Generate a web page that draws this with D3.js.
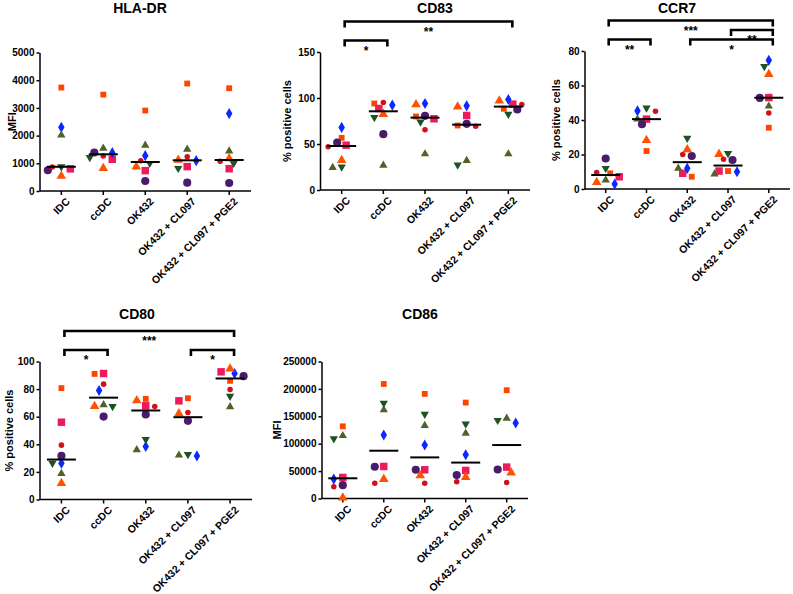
<!DOCTYPE html>
<html>
<head>
<meta charset="utf-8">
<script src="https://cdn.jsdelivr.net/npm/d3@7"></script>
<style>
  body { margin: 0; background: #fff; }
  svg { display: block; font-family: "Liberation Sans", Arial, sans-serif; }
  .axis path, .axis line { stroke: #000; stroke-width: 1.5; }
  .axis text { font-size: 10px; font-weight: bold; fill: #000; }
  .axis text.lbl { font-size: 10.5px; }
</style>
</head>
<body>
<svg id="chart" width="793" height="594"></svg>
<script>
'use strict';

// groups along the x axis, same for all panels
const GROUPS = ["IDC", "ccDC", "OK432", "OK432 + CL097", "OK432 + CL097 + PGE2"];

// donors, one marker each
const DONORS = ["sqOrange", "sqPink", "diamond", "triOlive", "triDown", "circPurple", "circRed", "triOrange"];

// values per donor, in GROUPS order
const HLADR = {
    sqOrange:   [3735, 3480, 2905, 3880, 3710],
    sqPink:     [800, 1145, 735, 880, 805],
    diamond:    [2300, 1385, 1275, 1095, 2795],
    triOlive:   [2020, 1540, 1650, 1505, 1445],
    triDown:    [880, 1215, 1000, 820, 1000],
    circPurple: [750, 1390, 360, 300, 290],
    circRed:    [870, 1265, 1095, 1240, 1070],
    triOrange:  [540, 820, 880, 1120, 1170]
};

const CD83 = {
    sqOrange:   [56.7, 94, 79.9, 70.1, 88.3],
    sqPink:     [48.7, 88.6, 77.4, 81, 93.3],
    diamond:    [68, 92.3, 94, 91.5, 98.4],
    triOlive:   [24.3, 26.9, 39.2, 32, 39.2],
    triDown:    [25.1, 78.8, 74.1, 27.2, 82.5],
    circPurple: [51.6, 60.7, 80.6, 71.9, 87.5],
    circRed:    [46.9, 95.2, 65.4, 69.4, 93],
    triOrange:  [32.3, 82.5, 93, 90.4, 97]
};

const CCR7 = {
    sqOrange:   [9.1, 22, 7.1, 10.4, 35.5],
    sqPink:     [7.1, 40.5, 9.1, 10.4, 53],
    diamond:    [2.9, 45.3, 12, 10, 74.6],
    triOlive:   [5.2, 40.5, 12, 8.7, 48],
    triDown:    [12, 47, 29.5, 20.6, 71.1],
    circPurple: [17.7, 37.6, 19.1, 16.8, 52.8],
    circRed:    [9.6, 45.1, 20, 17.2, 44],
    triOrange:  [3.9, 28.3, 22.9, 20.2, 66.5]
};

const CD80 = {
    sqOrange:   [80.7, 91, 72.9, 73.4, 86],
    sqPink:     [56, 91.3, 67.9, 71.5, 92.5],
    diamond:    [26.3, 79, 38.4, 31.6, 91.3],
    triOlive:   [18.8, 68.6, 36, 32.1, 67.1],
    triDown:    [26.3, 67.4, 43.5, 32.6, 74.9],
    circPurple: [31.6, 60.1, 61.6, 57, 89.4],
    circRed:    [39.4, 83.6, 67.4, 63, 79.7],
    triOrange:  [11.8, 67.6, 71.7, 62.3, 94.7]
};

const CD86 = {
    sqOrange:   [131700, 209000, 190900, 175000, 197600],
    sqPink:     [38400, 58500, 52400, 51200, 57300],
    diamond:    [35400, 115900, 97600, 79900, 137800],
    triOlive:   [114600, 161600, 132900, 118900, 146300],
    triDown:    [109100, 173800, 153700, 136000, 142700],
    circPurple: [24400, 57900, 52400, 42700, 53000],
    circRed:    [21300, 28000, 28000, 30500, 29300],
    triOrange:  [1200, 35400, 42000, 39000, 47000]
};

// significance comparisons [from group, to group, label]
const CD83_SIG = [[0, 1, "*"], [0, 4, "**"]];
const CCR7_SIG = [[0, 1, "**"], [2, 4, "*"], [3, 4, "**"], [0, 4, "***"]];
const CD80_SIG = [[0, 1, "*"], [3, 4, "*"], [0, 4, "***"]];

// marker look per donor
const MARKERS = {
    sqOrange:   { type: d3.symbolSquare,   size: 34, color: "#ff4400" },
    sqPink:     { type: d3.symbolSquare,   size: 56, color: "#ee1b5b" },
    diamond:    { type: d3.symbolDiamond,  size: 36, color: "#0a28ff" },
    triOlive:   { type: d3.symbolTriangle, size: 30, color: "#4f6228", rot: 0 },
    triDown:    { type: d3.symbolTriangle, size: 30, color: "#1d5222", rot: 180 },
    circPurple: { type: d3.symbolCircle,   size: 52, color: "#4a1a6b" },
    circRed:    { type: d3.symbolCircle,   size: 24, color: "#d0101a" },
    triOrange:  { type: d3.symbolTriangle, size: 40, color: "#ff5200", rot: 0 }
};

const PANELS = [
    { title: "HLA-DR", yLabel: "MFI", data: HLADR, sig: [], max: 5000, step: 1000,
      left: 39.5, right: 251, top: 52.5, bottom: 191, titleX: 140, titleY: 12.5, labelX: 16 },
    { title: "CD83", yLabel: "% positive cells", data: CD83, sig: CD83_SIG, max: 150, step: 50,
      left: 320, right: 530, top: 52, bottom: 190, titleX: 435, titleY: 12.5, labelX: 291 },
    { title: "CCR7", yLabel: "% positive cells", data: CCR7, sig: CCR7_SIG, max: 80, step: 20,
      left: 584.5, right: 790, top: 51, bottom: 189, titleX: 677, titleY: 12.5, labelX: 559.5 },
    { title: "CD80", yLabel: "% positive cells", data: CD80, sig: CD80_SIG, max: 100, step: 20,
      left: 39.5, right: 252, top: 361.5, bottom: 499.5, titleX: 137, titleY: 319, labelX: 12.5 },
    { title: "CD86", yLabel: "MFI", data: CD86, sig: [], max: 250000, step: 50000,
      left: 321.5, right: 528, top: 361.5, bottom: 498.5, titleX: 420, titleY: 319, labelX: 280.5 }
];

const svg = d3.select("#chart");

/**
 * Spread points of one column sideways when they overlap (beeswarm)
 */
function spread(points) {
    const placed = [];
    const stepX = 4.5, minDist = 6.5;
    points.slice().sort((a, b) => a.py - b.py).forEach(p => {
        let best = 0, bestScore = Infinity;
        for (let k = 0; k < 7; ++k) {
            let off = k === 0 ? 0 : (k % 2 ? -1 : 1) * Math.ceil(k / 2) * stepX;
            // how much this spot collides with the points already placed
            let score = d3.sum(placed, q => {
                let dx = off - q.off, dy = p.py - q.py;
                let d = Math.sqrt(dx * dx + dy * dy);
                return d < minDist ? minDist - d : 0;
            });
            if (score === 0) { best = off; bestScore = 0; break; }
            if (score < bestScore) { best = off; bestScore = score; }
        }
        p.off = best;
        placed.push(p);
    });
}

function drawPanel(cfg) {
    const g = svg.append("g");
    const x = d3.scalePoint().domain(GROUPS).range([cfg.left, cfg.right]).padding(0.52);
    const y = d3.scaleLinear().domain([0, cfg.max]).range([cfg.bottom, cfg.top]);

    // title
    g.append("text").attr("x", cfg.titleX).attr("y", cfg.titleY)
        .attr("text-anchor", "middle").attr("font-size", 14).attr("font-weight", "bold")
        .text(cfg.title);

    // y axis
    g.append("g").attr("class", "axis")
        .attr("transform", "translate(" + cfg.left + ",0)")
        .call(d3.axisLeft(y).tickValues(d3.range(0, cfg.max + 1, cfg.step))
            .tickSize(3).tickSizeOuter(0).tickPadding(2).tickFormat(d3.format("d")));

    // x axis
    const xa = g.append("g").attr("class", "axis")
        .attr("transform", "translate(0," + cfg.bottom + ")");
    xa.append("line").attr("x1", cfg.left).attr("x2", cfg.right);
    xa.selectAll(".tk").data(GROUPS).enter().append("line")
        .attr("x1", d => x(d)).attr("x2", d => x(d)).attr("y1", 0).attr("y2", 4);
    xa.selectAll(".lbl").data(GROUPS).enter().append("text")
        .attr("class", "lbl")
        .attr("text-anchor", "end")
        .attr("transform", d => "translate(" + (x(d) + 4) + ",6) rotate(-45)")
        .attr("dy", "0.7em")
        .text(d => d);

    // y label
    g.append("text")
        .attr("transform", "translate(" + cfg.labelX + "," + ((cfg.top + cfg.bottom) / 2) + ") rotate(-90)")
        .attr("text-anchor", "middle").attr("font-size", 11).attr("font-weight", "bold")
        .text(cfg.yLabel);

    // points
    GROUPS.forEach((grp, gi) => {
        let pts = DONORS.map(dn => ({ donor: dn, value: cfg.data[dn][gi], py: y(cfg.data[dn][gi]), off: 0 }));
        spread(pts);
        pts.forEach(p => {
            const m = MARKERS[p.donor];
            g.append("path")
                .attr("d", d3.symbol().type(m.type).size(m.size)())
                .attr("fill", m.color)
                .attr("transform", "translate(" + (x(grp) + p.off) + "," + p.py + ")" + (m.rot ? " rotate(" + m.rot + ")" : ""));
        });
        const med = d3.median(pts, p => p.value);
        g.append("line")
            .attr("x1", x(grp) - 14.5).attr("x2", x(grp) + 14.5)
            .attr("y1", y(med)).attr("y2", y(med))
            .attr("stroke", "#000").attr("stroke-width", 2);
    });

    // significance brackets, stacked greedily in list order
    const levels = [];
    const assigned = cfg.sig.map(s => {
        let lv = 0;
        while ((levels[lv] || []).some(o => !(s[1] < o[0] || s[0] > o[1]))) lv++;
        (levels[lv] = levels[lv] || []).push(s);
        return { s: s, lv: lv };
    });
    const nLv = levels.length;
    const yLow = cfg.top - 11.5, yHigh = cfg.top - 30.5;
    assigned.forEach(a => {
        const by = nLv > 1 ? yLow - (yLow - yHigh) * a.lv / (nLv - 1) : yLow;
        const x1 = x(GROUPS[a.s[0]]) + 3, x2 = x(GROUPS[a.s[1]]) + 4;
        g.append("path")
            .attr("d", "M" + x1 + "," + (by + 6) + "V" + by + "H" + x2 + "V" + (by + 6))
            .attr("fill", "none").attr("stroke", "#000").attr("stroke-width", 2.6);
        g.append("text").attr("x", (x1 + x2) / 2).attr("y", by + 14)
            .attr("text-anchor", "middle").attr("font-size", 12).attr("font-weight", "bold")
            .text(a.s[2]);
    });
}

PANELS.forEach(drawPanel);
</script>
</body>
</html>
